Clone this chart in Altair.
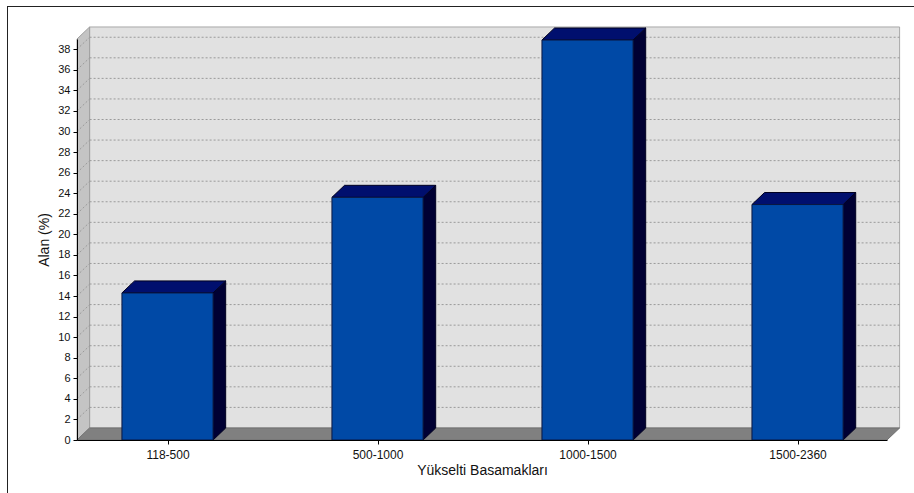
import json
import altair as alt
import pandas as pd

# ---- data ----
categories = ["118-500", "500-1000", "1000-1500", "1500-2360"]
values = [14.3, 23.6, 38.9, 22.9]
y_ticks = list(range(0, 40, 2))
x_title = "Yükselti Basamakları"
y_title = "Alan (%)"

# ---- style / geometry constants ----
Y_MAX = 39.0
X_MIN, X_MAX = -0.431, 3.426
HALF = 0.217          # half bar width in category units
DX = 0.06             # 3D depth, horizontal (category units)
DY = 1.17             # 3D depth, vertical (value units)
FONT = "Liberation Sans"

xs = alt.Scale(domain=[X_MIN, X_MAX], nice=False, zero=False)
ys = alt.Scale(domain=[0, Y_MAX], nice=False, zero=False)
idx = list(range(len(categories)))
label_expr = json.dumps(categories) + "[round(datum.value)]"

x_axis = alt.Axis(values=idx, labelExpr=label_expr, grid=False, zindex=1,
                  tickSize=4, tickColor="#000000", domainColor="#000000",
                  labelFont=FONT, labelFontSize=12, labelColor="#111111",
                  labelPadding=5, titleFont=FONT, titleFontSize=14,
                  titleFontWeight="normal", titleColor="#111111",
                  titlePadding=3, labelFlush=False)
y_axis = alt.Axis(values=y_ticks, grid=False, tickSize=4, zindex=1,
                  tickColor="#000000", domainColor="#000000",
                  labelFont=FONT, labelFontSize=11, labelColor="#111111",
                  labelPadding=3, titleFont=FONT, titleFontSize=14,
                  titleFontWeight="normal", titleColor="#111111",
                  titlePadding=6, labelFlush=False)


def X(f):
    return alt.X(f, scale=xs, axis=x_axis, title=x_title)


def Y(f):
    return alt.Y(f, scale=ys, axis=y_axis, title=y_title)


bars = pd.DataFrame({"cat": categories, "i": idx, "v": values})
bars["l"] = bars["i"] - HALF
bars["r"] = bars["i"] + HALF
bars["zero"] = 0.0

side_rows, top_rows = [], []
for c, i, v in zip(categories, idx, values):
    side_rows.append({"cat": c, "x": i + HALF, "y": 0.0, "y2": v})
    side_rows.append({"cat": c, "x": i + HALF + DX, "y": DY, "y2": v + DY})
    top_rows.append({"cat": c, "y": v, "x": i - HALF, "x2": i + HALF})
    top_rows.append({"cat": c, "y": v + DY, "x": i - HALF + DX, "x2": i + HALF + DX})
side_df = pd.DataFrame(side_rows)
top_df = pd.DataFrame(top_rows)

walls = pd.DataFrame({"x": [X_MIN + DX], "x2": [X_MAX + DX], "y": [DY], "y2": [Y_MAX + DY]})
left_wall = pd.DataFrame({"x": [X_MIN, X_MIN + DX], "y": [0.0, DY], "y2": [Y_MAX, Y_MAX + DY]})
floor = pd.DataFrame({"y": [0.0, DY], "x": [X_MIN, X_MIN + DX], "x2": [X_MAX, X_MAX + DX]})

grid_back = pd.DataFrame({"y": [t + DY for t in y_ticks if t > 0],
                          "x": X_MIN + DX, "x2": X_MAX + DX})
grid_left = pd.DataFrame({"y": [t for t in y_ticks if t > 0],
                          "y2": [t + DY for t in y_ticks if t > 0],
                          "x": X_MIN, "x2": X_MIN + DX})

frame = alt.Chart(pd.DataFrame({"a": [0]}))
border_top = frame.mark_rule(color="#222222", strokeWidth=1).encode(
    x=alt.value(-70), x2=alt.value(860), y=alt.value(-32.5))
border_left = frame.mark_rule(color="#222222", strokeWidth=1).encode(
    x=alt.value(-69.5), y=alt.value(-33), y2=alt.value(470))

back = alt.Chart(walls).mark_rect(fill="#e1e1e1", stroke="#a8a8a8", strokeWidth=1).encode(
    x=X("x:Q"), x2="x2:Q", y=Y("y:Q"), y2="y2:Q")

lwall = alt.Chart(left_wall).mark_area(orient="vertical", fill="#c4c4c4",
                                       stroke="#a0a0a0", strokeWidth=1).encode(
    x=X("x:Q"), y=Y("y:Q"), y2="y2:Q")

fl = alt.Chart(floor).mark_area(orient="horizontal", fill="#808080",
                                stroke="#707070", strokeWidth=1).encode(
    y=Y("y:Q"), x=X("x:Q"), x2="x2:Q")

gb = alt.Chart(grid_back).mark_rule(color="#9a9a9a", strokeWidth=1, strokeDash=[2, 2]).encode(
    y=Y("y:Q"), x=X("x:Q"), x2="x2:Q")

gl = alt.Chart(grid_left).mark_rule(color="#9a9a9a", strokeWidth=1, strokeDash=[2, 2]).encode(
    y=Y("y:Q"), y2="y2:Q", x=X("x:Q"), x2="x2:Q")

side = alt.Chart(side_df).mark_area(orient="vertical", fill="#000033",
                                    stroke="#000020", strokeWidth=1).encode(
    x=X("x:Q"), y=Y("y:Q"), y2="y2:Q", detail="cat:N")

top = alt.Chart(top_df).mark_area(orient="horizontal", fill="#000f6e",
                                  stroke="#000020", strokeWidth=1).encode(
    y=Y("y:Q"), x=X("x:Q"), x2="x2:Q", detail="cat:N")

front = alt.Chart(bars).mark_rect(fill="#0049a6", stroke="#0a1740", strokeWidth=1).encode(
    x=X("l:Q"), x2="r:Q", y=Y("zero:Q"), y2="v:Q")

chart = alt.layer(border_top, border_left, back, lwall, fl, gb, gl, side, top, front).properties(
    width=810, height=401,
    autosize=alt.AutoSizeParams(type="none"),
    padding={"left": 77, "top": 39, "right": 27, "bottom": 53},
    background="white",
).configure_view(stroke=None)

chart.save("out.html", embed_options={"renderer": "svg", "actions": False})
